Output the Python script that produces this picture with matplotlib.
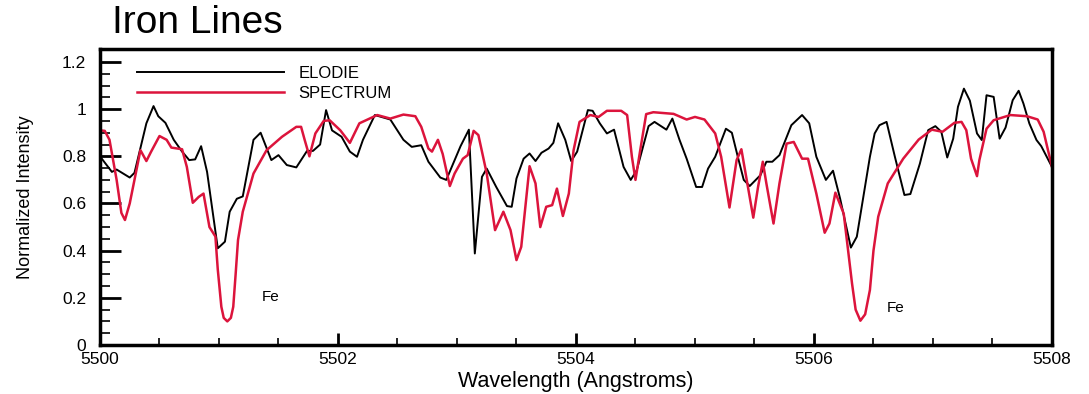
import matplotlib
matplotlib.use("Agg")
import matplotlib.pyplot as plt
from matplotlib.ticker import MultipleLocator

plt.rcParams['font.family'] = ['Liberation Sans', 'DejaVu Sans']

# observed ELODIE spectrum (wavelength in Angstroms, normalized flux)
elodie_wl = [5500.00, 5500.10, 5500.14, 5500.25, 5500.29, 5500.39, 5500.45, 5500.49,
             5500.55, 5500.62, 5500.69, 5500.75, 5500.80, 5500.85, 5500.90, 5500.99,
             5501.05, 5501.09, 5501.15, 5501.20, 5501.29, 5501.35, 5501.44, 5501.50,
             5501.57, 5501.65, 5501.74, 5501.79, 5501.85, 5501.90, 5501.95, 5502.03,
             5502.10, 5502.16, 5502.21, 5502.31, 5502.44, 5502.55, 5502.62, 5502.70,
             5502.76, 5502.86, 5502.91, 5503.03, 5503.10, 5503.15, 5503.21, 5503.25,
             5503.33, 5503.42, 5503.46, 5503.50, 5503.56, 5503.61, 5503.66, 5503.71,
             5503.77, 5503.81, 5503.85, 5503.91, 5503.96, 5504.01, 5504.10, 5504.14,
             5504.20, 5504.26, 5504.32, 5504.40, 5504.46, 5504.51, 5504.61, 5504.66,
             5504.76, 5504.81, 5504.87, 5504.93, 5505.01, 5505.06, 5505.11, 5505.17,
             5505.26, 5505.31, 5505.36, 5505.41, 5505.46, 5505.55, 5505.60, 5505.65,
             5505.71, 5505.81, 5505.90, 5505.96, 5506.02, 5506.10, 5506.16, 5506.22,
             5506.31, 5506.36, 5506.41, 5506.47, 5506.51, 5506.55, 5506.61, 5506.68,
             5506.76, 5506.81, 5506.89, 5506.96, 5507.02, 5507.07, 5507.12, 5507.17,
             5507.21, 5507.26, 5507.31, 5507.37, 5507.41, 5507.45, 5507.51, 5507.56,
             5507.61, 5507.67, 5507.72, 5507.76, 5507.81, 5507.87, 5507.91, 5508.00]
elodie_flux = [0.80, 0.734, 0.744, 0.71, 0.73, 0.94, 1.013, 0.97,
               0.942, 0.87, 0.82, 0.784, 0.787, 0.843, 0.734, 0.41,
               0.438, 0.565, 0.62, 0.63, 0.87, 0.90, 0.784, 0.805,
               0.763, 0.753, 0.823, 0.823, 0.85, 0.996, 0.91, 0.883,
               0.82, 0.798, 0.87, 0.975, 0.956, 0.87, 0.84, 0.847,
               0.777, 0.71, 0.70, 0.843, 0.913, 0.388, 0.713, 0.748,
               0.67, 0.589, 0.586, 0.706, 0.79, 0.812, 0.78, 0.815,
               0.833, 0.857, 0.94, 0.87, 0.78, 0.82, 0.996, 0.993,
               0.94, 0.897, 0.913, 0.755, 0.70, 0.74, 0.928, 0.946,
               0.913, 0.96, 0.87, 0.79, 0.67, 0.67, 0.748, 0.798,
               0.917, 0.90, 0.798, 0.70, 0.674, 0.72, 0.777, 0.777,
               0.805, 0.932, 0.975, 0.94, 0.798, 0.70, 0.739, 0.62,
               0.413, 0.459, 0.614, 0.798, 0.897, 0.932, 0.946, 0.798,
               0.636, 0.64, 0.769, 0.911, 0.928, 0.904, 0.795, 0.875,
               1.01, 1.087, 1.036, 0.897, 0.869, 1.059, 1.052, 0.875,
               0.922, 1.038, 1.078, 1.024, 0.939, 0.869, 0.843, 0.755]

# synthetic spectrum
synth_wl = [5500.00, 5500.04, 5500.08, 5500.14, 5500.18, 5500.21, 5500.25, 5500.34,
            5500.39, 5500.43, 5500.50, 5500.56, 5500.60, 5500.69, 5500.73, 5500.78,
            5500.83, 5500.87, 5500.92, 5500.97, 5500.99, 5501.02, 5501.04, 5501.07,
            5501.10, 5501.12, 5501.14, 5501.16, 5501.20, 5501.29, 5501.40, 5501.53,
            5501.65, 5501.69, 5501.72, 5501.76, 5501.81, 5501.88, 5501.93, 5502.02,
            5502.10, 5502.18, 5502.33, 5502.44, 5502.55, 5502.65, 5502.70, 5502.76,
            5502.79, 5502.84, 5502.88, 5502.94, 5502.98, 5503.05, 5503.09, 5503.14,
            5503.18, 5503.25, 5503.32, 5503.39, 5503.45, 5503.50, 5503.54, 5503.61,
            5503.66, 5503.70, 5503.75, 5503.80, 5503.84, 5503.89, 5503.94, 5503.98,
            5504.03, 5504.12, 5504.19, 5504.26, 5504.38, 5504.43, 5504.47, 5504.50,
            5504.54, 5504.59, 5504.65, 5504.82, 5504.93, 5505.00, 5505.08, 5505.17,
            5505.22, 5505.29, 5505.35, 5505.39, 5505.43, 5505.49, 5505.53, 5505.57,
            5505.60, 5505.66, 5505.71, 5505.77, 5505.83, 5505.90, 5505.95, 5506.02,
            5506.09, 5506.13, 5506.18, 5506.25, 5506.32, 5506.35, 5506.39, 5506.43,
            5506.47, 5506.50, 5506.54, 5506.62, 5506.75, 5506.88, 5506.99, 5507.08,
            5507.18, 5507.24, 5507.28, 5507.32, 5507.37, 5507.39, 5507.45, 5507.51,
            5507.65, 5507.79, 5507.88, 5507.93, 5508.00]
synth_flux = [0.91, 0.908, 0.87, 0.70, 0.56, 0.53, 0.60, 0.826,
              0.78, 0.82, 0.886, 0.87, 0.837, 0.83, 0.755, 0.603,
              0.628, 0.642, 0.50, 0.46, 0.32, 0.162, 0.115, 0.10,
              0.115, 0.162, 0.30, 0.445, 0.565, 0.727, 0.826, 0.883,
              0.925, 0.925, 0.87, 0.80, 0.897, 0.95, 0.953, 0.91,
              0.857, 0.94, 0.975, 0.96, 0.977, 0.97, 0.925, 0.833,
              0.82, 0.87, 0.81, 0.674, 0.727, 0.79, 0.805, 0.908,
              0.89, 0.727, 0.487, 0.565, 0.487, 0.36, 0.416, 0.758,
              0.685, 0.50, 0.586, 0.593, 0.663, 0.547, 0.642, 0.826,
              0.946, 0.975, 0.967, 0.993, 0.993, 0.975, 0.798, 0.70,
              0.826, 0.979, 0.987, 0.98, 0.956, 0.967, 0.956, 0.897,
              0.798, 0.583, 0.784, 0.83, 0.713, 0.54, 0.67, 0.777,
              0.685, 0.515, 0.685, 0.854, 0.861, 0.79, 0.79, 0.642,
              0.476, 0.515, 0.646, 0.557, 0.26, 0.15, 0.103, 0.13,
              0.233, 0.40, 0.544, 0.685, 0.79, 0.871, 0.913, 0.904,
              0.942, 0.946, 0.911, 0.79, 0.716, 0.784, 0.917, 0.953,
              0.975, 0.97, 0.956, 0.904, 0.755]

line_labels = ['Fe', 'Fe']
line_wl = [5501.43, 5506.69]
line_y = [0.203, 0.157]

fig = plt.figure(figsize=(10.89, 3.94), dpi=100)
ax = fig.add_axes([0.0918, 0.1244, 0.8742, 0.7512])

ax.plot(elodie_wl, elodie_flux, color='black', lw=1.4, label='ELODIE',
        solid_joinstyle='round')
ax.plot(synth_wl, synth_flux, color='#dc143c', lw=1.8, label='SPECTRUM',
        solid_joinstyle='round')

for lab, wl, yy in zip(line_labels, line_wl, line_y):
    ax.text(wl, yy, lab, fontsize=11, ha='center', va='center')

ax.set_xlim(5500, 5508)
ax.set_ylim(0, 1.255)
ax.xaxis.set_minor_locator(MultipleLocator(0.5))
ax.yaxis.set_minor_locator(MultipleLocator(0.05))
ax.set_xticks([5500, 5502, 5504, 5506, 5508])
ax.set_xticklabels(['5500', '5502', '5504', '5506', '5508'])
ax.set_yticks([0, 0.2, 0.4, 0.6, 0.8, 1.0, 1.2])
ax.set_yticklabels(['0', '0.2', '0.4', '0.6', '0.8', '1', '1.2'])
ax.tick_params(which='both', direction='in', top=False, right=False, labelsize=12.5)
ax.tick_params(axis='x', which='major', length=9, width=2, pad=5)
ax.tick_params(axis='x', which='minor', length=5, width=1.2)
ax.tick_params(axis='y', which='major', length=15, width=2, pad=10)
ax.tick_params(axis='y', which='minor', length=7, width=1.2)
for sp in ax.spines.values():
    sp.set_linewidth(2.5)

ax.set_xlabel('Wavelength (Angstroms)', fontsize=15.5)
ax.xaxis.set_label_coords(0.5, -0.087)
ax.set_ylabel('Normalized Intensity', fontsize=13)
ax.yaxis.set_label_coords(-0.069, 0.5)
fig.text(0.103, 0.916, 'Iron Lines', fontsize=28, ha='left', va='baseline')

ax.legend(loc='upper left', frameon=False, fontsize=12, handlelength=8.8,
          handletextpad=0.9, labelspacing=0.3, borderaxespad=0.0,
          bbox_to_anchor=(0.032, 0.965))

fig.savefig('out.png', dpi=100)
